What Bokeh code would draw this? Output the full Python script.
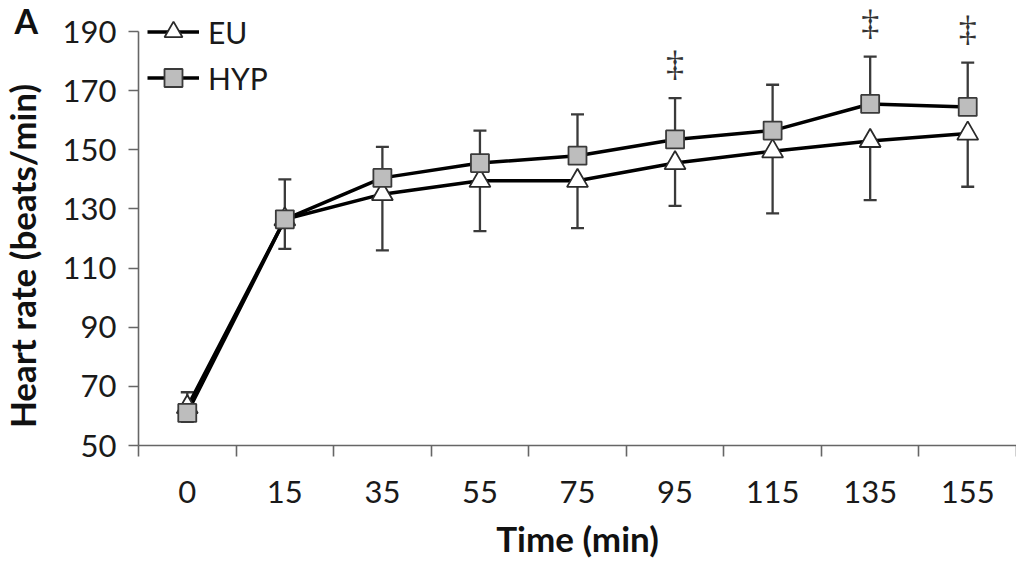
from bokeh.plotting import figure
from bokeh.models import (Range1d, FixedTicker, ColumnDataSource, Legend, LegendItem,
                          LabelSet, Label, LinearAxis)
from bokeh.embed import file_html
from bokeh.resources import INLINE

# ---- data ----
categories = ["0", "15", "35", "55", "75", "95", "115", "135", "155"]
eu_mean = [63, 126.5, 135, 139.5, 139.5, 145.5, 149.5, 153, 155.5]
eu_sd = [5, 10, 19, 17, 16, 14.5, 21, 20, 18]
hyp_mean = [61, 126.5, 140.5, 145.5, 148, 153.5, 156.5, 165.5, 164.5]
hyp_sd = [7, 13.5, 10.5, 11, 14, 14, 15.5, 16, 15]
significant = [False, False, False, False, False, True, False, True, True]
y_ticks = [50, 70, 90, 110, 130, 150, 170, 190]

FONT = "Lato"
n = len(categories)
xs = [i + 0.5 for i in range(n)]

W, H = 1016, 563
FRAME_L, FRAME_B = 138, 445          # pixel position of the axes corner
cat_px = (W - FRAME_L) / n
y_px = (445 - 31) / (190 - 50)

src = ColumnDataSource(dict(
    x=xs,
    eu=eu_mean,
    eu_lo=[m - s for m, s in zip(eu_mean, eu_sd)],
    hyp=hyp_mean,
    hyp_hi=[m + s for m, s in zip(hyp_mean, hyp_sd)],
))

x_range = Range1d(-FRAME_L / cat_px, n)
y_range = Range1d(50 - (H - FRAME_B) / y_px, 190 + 31 / y_px)

p = figure(width=W, height=H, output_backend="svg", toolbar_location=None,
           x_range=x_range, y_range=y_range,
           min_border_left=0, min_border_right=0, min_border_top=0, min_border_bottom=0)
p.outline_line_color = None
p.grid.visible = False
p.background_fill_color = "white"

# error bars (HYP upward, EU downward)
err_col = "#3a3a3a"
p.segment(x0="x", y0="hyp", x1="x", y1="hyp_hi", source=src, line_color=err_col, line_width=2.3)
p.scatter(x="x", y="hyp_hi", source=src, marker="dash", size=13, line_color=err_col, line_width=2.3)
p.segment(x0="x", y0="eu", x1="x", y1="eu_lo", source=src, line_color=err_col, line_width=2.3)
p.scatter(x="x", y="eu_lo", source=src, marker="dash", size=13, line_color=err_col, line_width=2.3)

# lines
eu_line = p.line(x="x", y="eu", source=src, line_color="black", line_width=3.5)
hyp_line = p.line(x="x", y="hyp", source=src, line_color="black", line_width=3.5)

# markers
eu_mk = p.scatter(x="x", y="eu", source=src, marker="triangle", size=21,
                  fill_color="white", line_color="#2a2a2a", line_width=1.8)
hyp_mk = p.scatter(x="x", y="hyp", source=src, marker="square", size=18,
                   fill_color="#bdbdbd", line_color="#3a3a3a", line_width=1.8)

# significance markers
sig_src = ColumnDataSource(dict(
    x=[x for x, s in zip(xs, significant) if s],
    y=[h + 11.5 for h, s in zip(src.data["hyp_hi"], significant) if s],
    t=["\u2021" for s in significant if s],
))
p.add_layout(LabelSet(x="x", y="y", text="t", source=sig_src, text_align="center",
                      text_baseline="middle", text_font_size="36px",
                      text_color="#333333", text_font="DejaVu Sans"))

# axes, drawn at the data corner (x = 0, y = 50)
axis_col = "#666666"
p.yaxis.fixed_location = 0
p.yaxis.bounds = (50, 190)
p.yaxis.ticker = FixedTicker(ticks=y_ticks)
p.yaxis.axis_line_color = axis_col
p.yaxis.axis_line_width = 1.6
p.yaxis.major_tick_line_color = axis_col
p.yaxis.major_tick_line_width = 1.6
p.yaxis.major_tick_out = 10
p.yaxis.major_tick_in = 0
p.yaxis.minor_tick_line_color = None
p.yaxis.major_label_text_font = FONT
p.yaxis.major_label_text_font_size = "31px"
p.yaxis.major_label_text_color = "#1a1a1a"
p.yaxis.major_label_standoff = 12

# y-axis title on its own (label-only) axis so it can sit a little lower
ylab_axis = LinearAxis(fixed_location=0, bounds=(38, 190), ticker=FixedTicker(ticks=[]),
                       axis_line_color=None, major_tick_line_color=None,
                       minor_tick_line_color=None, major_label_text_font_size="0px",
                       axis_label="Heart rate (beats/min)", axis_label_text_font=FONT,
                       axis_label_text_font_style="bold", axis_label_text_font_size="35px",
                       axis_label_text_color="#111111", axis_label_standoff=96)
p.add_layout(ylab_axis, "left")

p.xaxis.fixed_location = 50
p.xaxis.bounds = (0, n)
p.xaxis.ticker = FixedTicker(ticks=xs, minor_ticks=list(range(n + 1)))
p.xaxis.major_label_overrides = {x: c for x, c in zip(xs, categories)}
p.xaxis.axis_line_color = axis_col
p.xaxis.axis_line_width = 1.6
p.xaxis.major_tick_line_color = None
p.xaxis.major_tick_out = 0
p.xaxis.major_tick_in = 0
p.xaxis.minor_tick_line_color = axis_col
p.xaxis.minor_tick_line_width = 1.6
p.xaxis.minor_tick_out = 11
p.xaxis.minor_tick_in = 0
p.xaxis.major_label_text_font = FONT
p.xaxis.major_label_text_font_size = "31px"
p.xaxis.major_label_text_color = "#1a1a1a"
p.xaxis.major_label_standoff = 24
p.xaxis.axis_label = "Time (min)"
p.xaxis.axis_label_text_font = FONT
p.xaxis.axis_label_text_font_style = "bold"
p.xaxis.axis_label_text_font_size = "35px"
p.xaxis.axis_label_text_color = "#111111"
p.xaxis.axis_label_standoff = 11

# legend
legend = Legend(items=[LegendItem(label="EU", renderers=[eu_line, eu_mk]),
                       LegendItem(label="HYP", renderers=[hyp_line, hyp_mk])],
                location=(FRAME_L + 9, H - 100), orientation="vertical",
                glyph_width=52, glyph_height=45, label_height=30, spacing=1,
                padding=0, margin=0, label_standoff=9,
                label_text_font=FONT, label_text_font_size="30px",
                label_text_color="#1a1a1a",
                border_line_color=None, background_fill_alpha=0)
p.add_layout(legend)

# panel letter
p.add_layout(Label(x=(14 - FRAME_L) / cat_px, y=190 + (31 - 20) / y_px, text="A",
                   text_align="left", text_baseline="middle",
                   text_font=FONT, text_font_style="bold", text_font_size="34px",
                   text_color="#111111"))

open("out.html", "w").write(file_html(p, INLINE))
